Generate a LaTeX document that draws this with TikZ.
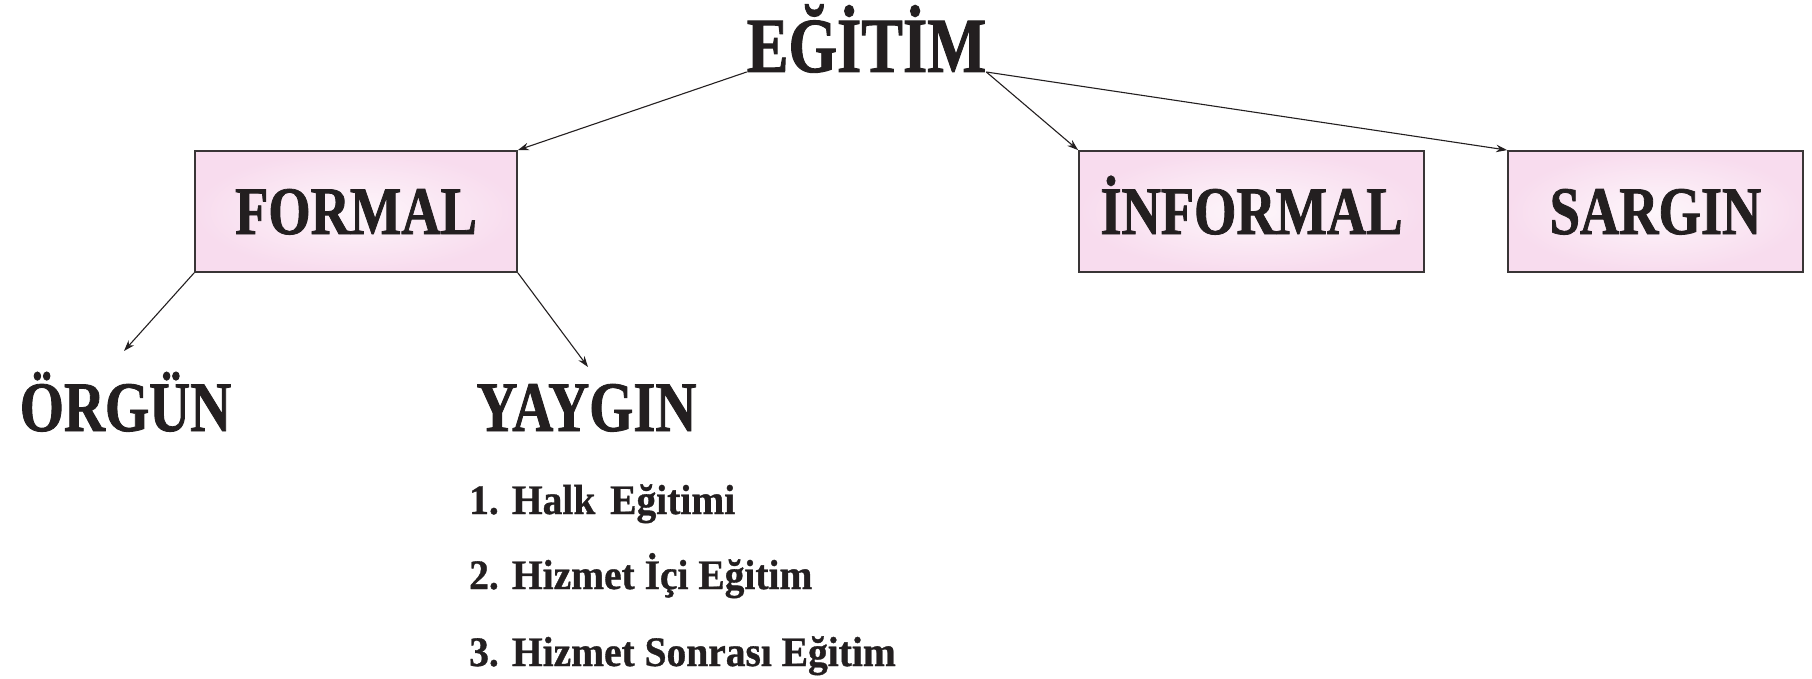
\documentclass[tikz,border=0pt]{standalone}
\usepackage{fontspec}
\setmainfont{Liberation Serif}
\newfontfamily\darfont[FakeStretch=0.8,FakeBold=1.2]{Liberation Serif}
\newfontfamily\listefont[FakeStretch=0.94,FakeBold=0.8]{Liberation Serif}
\usetikzlibrary{positioning,arrows.meta}
\definecolor{murekkep}{HTML}{231F20}
\definecolor{pembe}{HTML}{F8DCEE}

\begin{document}
\begin{tikzpicture}[x=1pt,y=-1pt,
      baslik/.style = {inner sep=0pt, text=murekkep, font=\darfont\bfseries\fontsize{78}{80}\selectfont},
      kutu/.style = {draw=murekkep!90, line width=1.8pt, inner color=white!75!pembe, outer color=pembe,
                     minimum height=121pt, text height=45pt, text depth=0pt, text=murekkep,
                     font=\darfont\bfseries\fontsize{68}{70}\selectfont},
      alt/.style = {inner sep=0pt, anchor=base, text=murekkep, font=\darfont\bfseries\fontsize{71}{72}\selectfont},
      madde/.style = {inner sep=0pt, anchor=base west, text=murekkep, font=\listefont\bfseries\fontsize{42}{44}\selectfont},
      ok/.style = {-{Stealth[length=11pt,width=7.5pt]}, line width=1.1pt, draw=murekkep},
      ]
      \useasboundingbox (0,0) rectangle (1812,679);

      \node[baslik, anchor=base] (egitim) at (866.5,72) {EĞİTİM};

      \node[kutu, minimum width=322pt] (formal) at (356,211.5) {FORMAL};
      \node[kutu, minimum width=345pt] (informal) at (1251.5,211.5) {İNFORMAL};
      \node[kutu, minimum width=295pt] (sargin) at (1655.5,211.5) {SARGIN};

      \node[alt] (orgun) at (125.5,431) {ÖRGÜN};
      \node[alt] (yaygin) at (586.5,431) {YAYGIN};
      \coordinate (orgunuc) at (124,351);
      \coordinate (yayginuc) at (588,367);

      \node[madde] (halk) at (469,514) {1. Halk\hspace{5pt} Eğitimi};
      \node[madde] (hizici) at (469,589) {2. Hizmet İçi Eğitim};
      \node[madde] (hizsonra) at (469,666) {3. Hizmet Sonrası Eğitim};

      \draw[ok] (egitim.base west) -- (formal.north east);
      \draw[ok] (egitim.base east) -- (informal.north west);
      \draw[ok] (egitim.base east) -- (sargin.north west);
      \draw[ok] (formal.south west) -- (orgunuc);
      \draw[ok] (formal.south east) -- (yayginuc);
\end{tikzpicture}
\end{document}
